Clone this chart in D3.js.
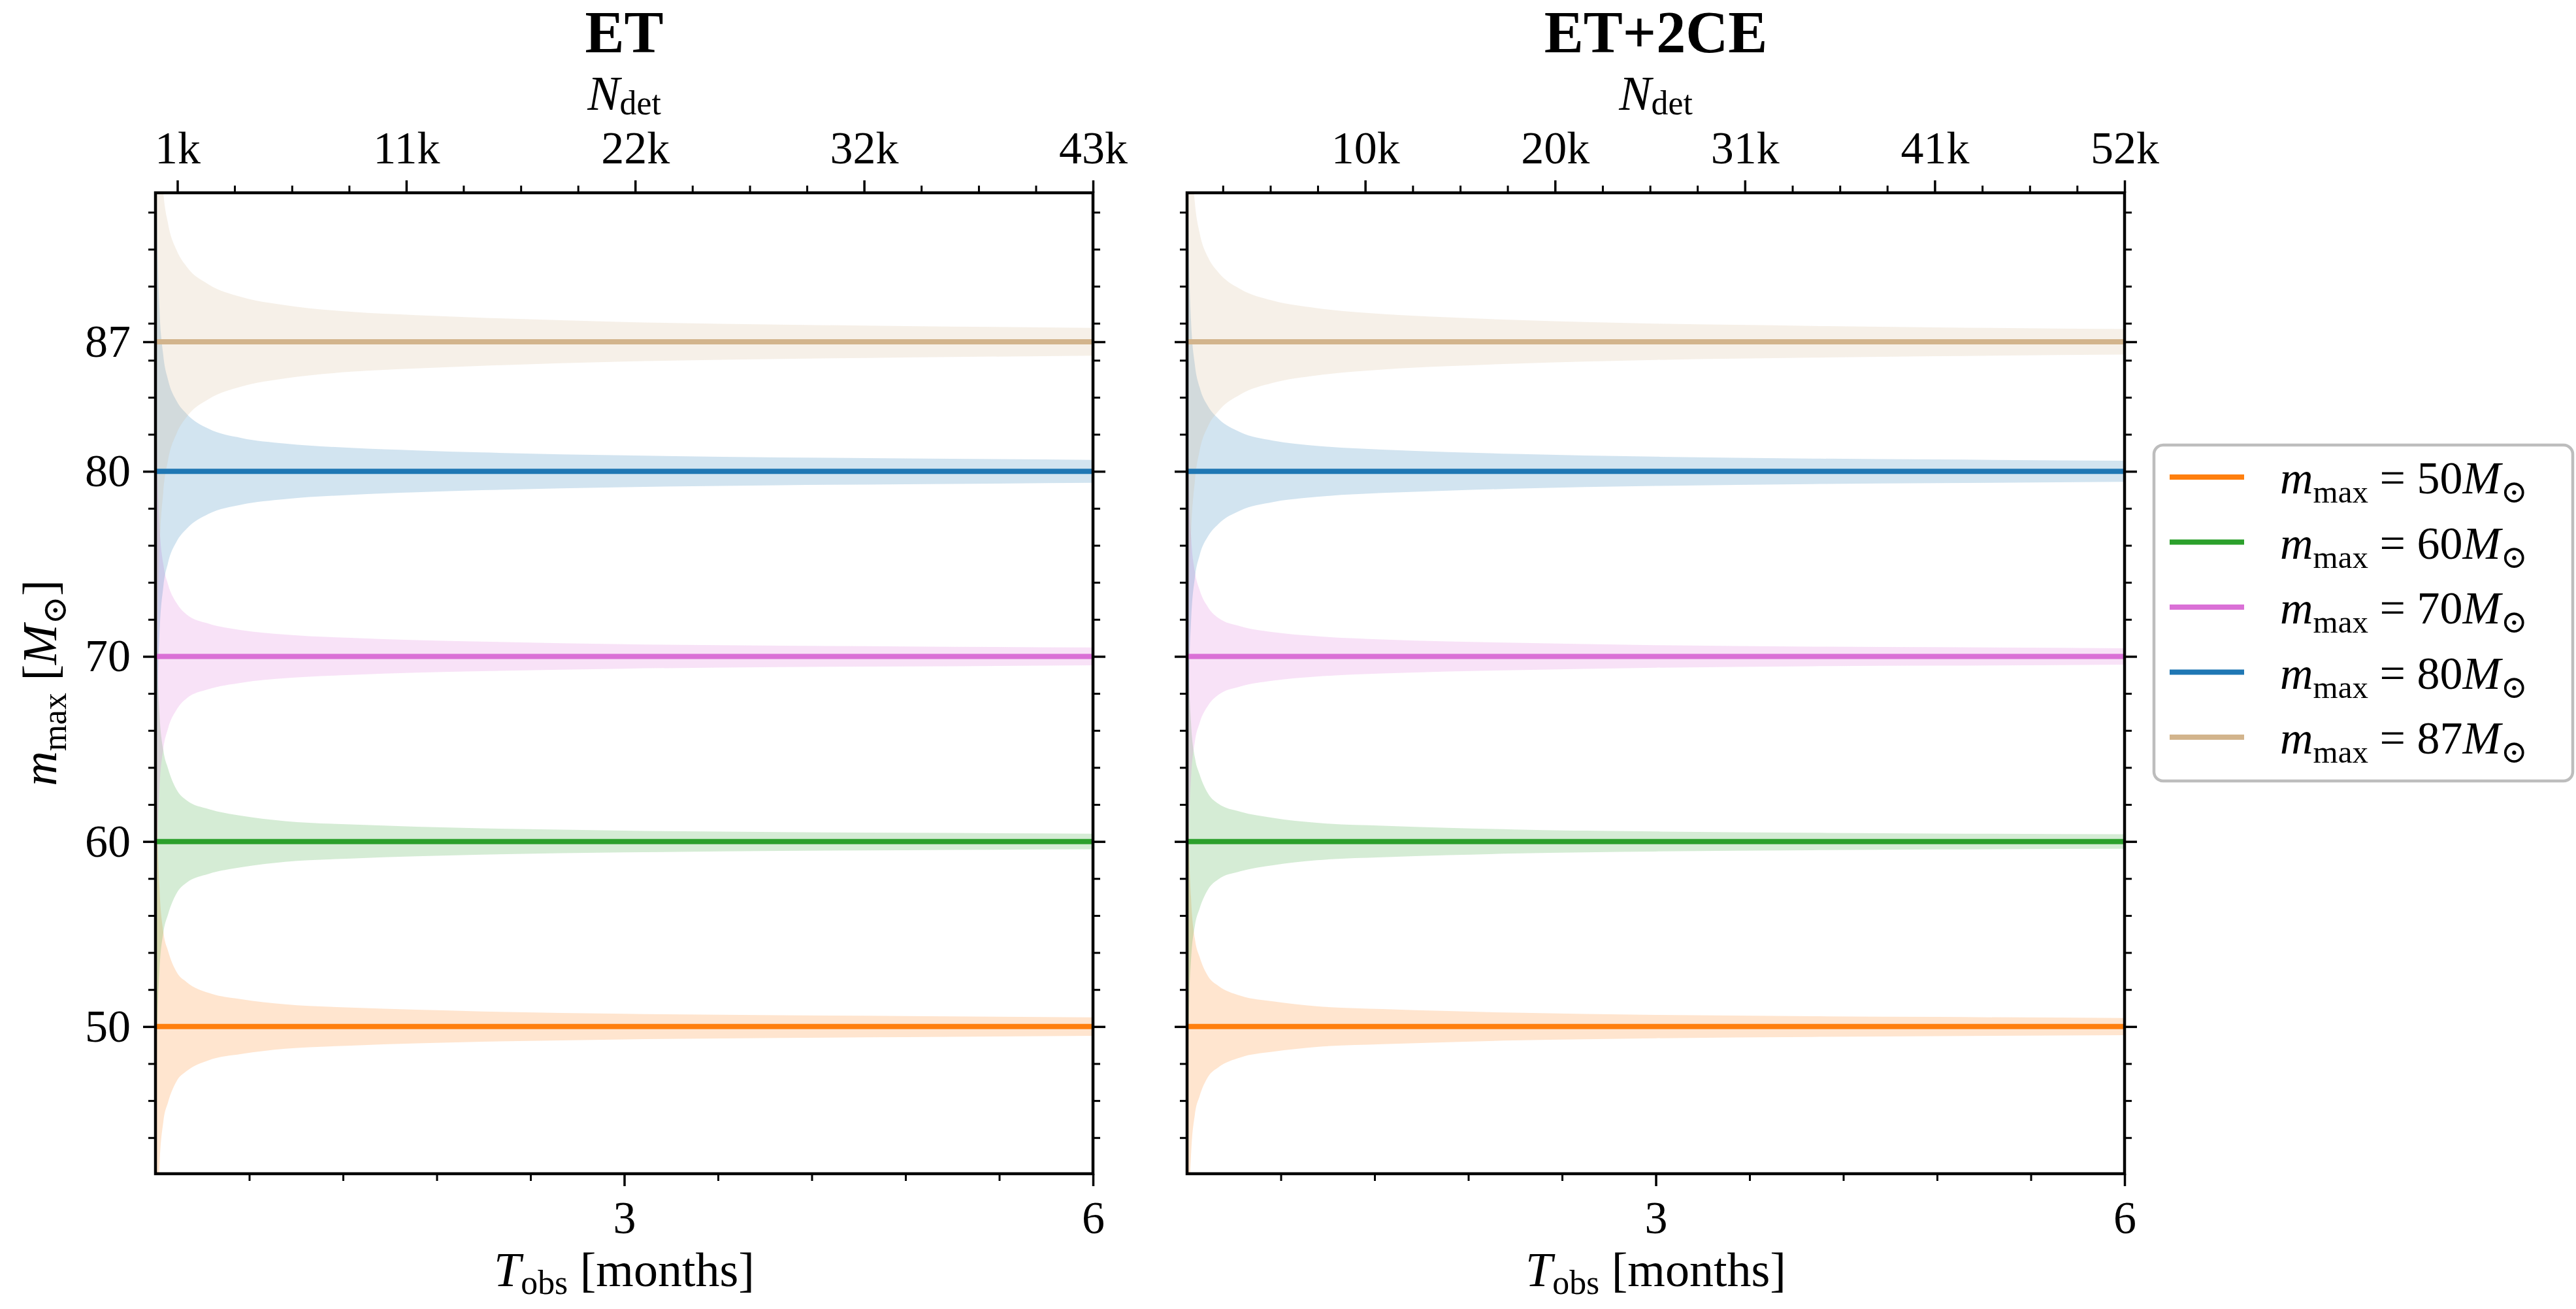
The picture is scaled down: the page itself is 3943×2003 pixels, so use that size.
<!DOCTYPE html>
<html>
<head>
<meta charset="utf-8">
<script src="https://cdn.jsdelivr.net/npm/d3@7"></script>
<style>
  body { margin: 0; background: #fff; }
  svg { display: block; }
</style>
</head>
<body>
<svg id="chart" width="3943" height="2003"></svg>
<script>
// ---- data -------------------------------------------------------------
// observation time samples (months)
const tObs = [0.006, 0.01, 0.025, 0.05, 0.08, 0.135, 0.2, 0.34, 0.55, 0.83, 1.25, 1.67, 2.09, 3.0, 4.0, 4.8, 6.0];

const massValues = [50, 60, 70, 80, 87];
const seriesColors = ["#ff7f0e", "#2ca02c", "#da70d6", "#1f77b4", "#d2b48c"];

// half-width of the m_max uncertainty band, ET alone
const etWidth50 = [15.5, 12, 7.6, 5.15, 4.1, 2.95, 2.4, 1.82, 1.48, 1.2, 1.03, 0.91, 0.82, 0.69, 0.61, 0.57, 0.5];
const etWidth60 = [14.5, 11, 7.0, 4.95, 3.95, 2.8, 2.22, 1.75, 1.39, 1.1, 0.92, 0.8, 0.71, 0.59, 0.51, 0.47, 0.42];
const etWidth70 = [15, 11.5, 7.2, 5.0, 3.9, 2.88, 2.26, 1.77, 1.42, 1.18, 1.0, 0.88, 0.8, 0.66, 0.58, 0.54, 0.48];
const etWidth80 = [19, 14, 8.9, 6.25, 4.95, 3.8, 3.1, 2.3, 1.8, 1.5, 1.27, 1.13, 1.02, 0.86, 0.75, 0.7, 0.62];
const etWidth87 = [24, 18, 11.5, 8.1, 6.4, 4.95, 4.05, 3.1, 2.42, 1.98, 1.62, 1.44, 1.3, 1.07, 0.93, 0.85, 0.75];

// half-width of the m_max uncertainty band, ET + 2 CE
const netWidth50 = [14.3, 11, 7.0, 4.75, 3.77, 2.71, 2.2, 1.67, 1.36, 1.1, 0.95, 0.84, 0.75, 0.63, 0.56, 0.52, 0.46];
const netWidth60 = [13.5, 10.1, 6.45, 4.55, 3.63, 2.58, 2.04, 1.61, 1.28, 1.01, 0.85, 0.74, 0.65, 0.54, 0.47, 0.43, 0.39];
const netWidth70 = [14, 10.6, 6.6, 4.6, 3.6, 2.65, 2.08, 1.63, 1.31, 1.09, 0.92, 0.81, 0.74, 0.61, 0.53, 0.5, 0.44];
const netWidth80 = [17.5, 13, 8.2, 5.75, 4.55, 3.5, 2.85, 2.12, 1.66, 1.38, 1.17, 1.04, 0.94, 0.79, 0.69, 0.64, 0.57];
const netWidth87 = [22, 16.5, 10.6, 7.5, 5.9, 4.55, 3.75, 2.85, 2.22, 1.82, 1.5, 1.32, 1.18, 0.98, 0.86, 0.78, 0.69];

// axis ticks
const yMajorTicks = [50, 60, 70, 80, 87];
const yMinorTicks = [44, 46, 48, 52, 54, 56, 58, 62, 64, 66, 68, 72, 74, 76, 78, 82, 84, 86, 88, 90, 92, 94];
const tMajorTicks = [3, 6];
const tMinorTicks = [0.6, 1.2, 1.8, 2.4, 3.6, 4.2, 4.8, 5.4];

// N_det (top) axis: tick positions in months and their labels
const etDetTicks = [0.14, 1.605, 3.07, 4.535, 6.0];
const etDetLabels = ["1k", "11k", "22k", "32k", "43k"];
const etDetMinor = [0.506, 0.873, 1.239, 1.971, 2.338, 2.704, 3.436, 3.803, 4.169, 4.901, 5.268, 5.634];
const netDetTicks = [1.14, 2.355, 3.57, 4.785, 6.0];
const netDetLabels = ["10k", "20k", "31k", "41k", "52k"];
const netDetMinor = [0.229, 0.533, 0.836, 1.444, 1.748, 2.051, 2.659, 2.963, 3.266, 3.874, 4.178, 4.481, 5.089, 5.393, 5.696];

const panels = [
  { title: "ET", x0: 238, widths: [etWidth50, etWidth60, etWidth70, etWidth80, etWidth87],
    detTicks: etDetTicks, detLabels: etDetLabels, detMinor: etDetMinor, yLabels: true },
  { title: "ET+2CE", x0: 1817, widths: [netWidth50, netWidth60, netWidth70, netWidth80, netWidth87],
    detTicks: netDetTicks, detLabels: netDetLabels, detMinor: netDetMinor, yLabels: false }
];

// ---- layout -----------------------------------------------------------
const FONT = "'Liberation Serif', 'DejaVu Serif', serif";
const panelW = 1435;
const yTop = 295, yBot = 1796;
const majorLen = 19, minorLen = 11;
const tickFont = 70, labelFont = 74, titleFont = 90;

const svg = d3.select("#chart");
svg.append("rect").attr("width", 3943).attr("height", 2003).attr("fill", "#fff");

const y = d3.scaleLinear().domain([42.05, 95.05]).range([yBot, yTop]);

// writes math-like text: parts = [{t, it, sub}]
function mathText(sel, parts, size, shift = 0.2) {
  let down = false;
  parts.forEach(p => {
    const ts = sel.append("tspan").text(p.t);
    if (p.it) ts.attr("font-style", "italic");
    if (p.sub) {
      ts.attr("font-size", size * 0.7).attr("dy", down ? 0 : size * shift);
      down = true;
    } else {
      ts.attr("font-size", size);
      if (down) { ts.attr("dy", -size * shift); down = false; }
    }
  });
  return sel;
}

function styleAxis(g, width) {
  g.select(".domain").remove();
  g.selectAll(".tick line").attr("stroke", "#000").attr("stroke-width", width);
  g.selectAll(".tick text").attr("font-family", FONT).attr("font-size", tickFont).attr("fill", "#000");
}

panels.forEach((p, pi) => {
  const x = d3.scaleLinear().domain([0, 6]).range([p.x0, p.x0 + panelW]);
  const g = svg.append("g");
  const clipId = "clip" + pi;
  svg.append("clipPath").attr("id", clipId)
    .append("rect").attr("x", p.x0).attr("y", yTop).attr("width", panelW).attr("height", yBot - yTop);

  const plot = g.append("g").attr("clip-path", `url(#${clipId})`);

  // uncertainty bands
  massValues.forEach((m, i) => {
    const pts = tObs.map((t, k) => ({ t, w: p.widths[i][k] }));
    const area = d3.area()
      .x(d => x(d.t))
      .y0(d => y(m - d.w))
      .y1(d => y(m + d.w))
      .curve(d3.curveMonotoneX);
    plot.append("path").datum(pts)
      .attr("d", area)
      .attr("fill", seriesColors[i])
      .attr("fill-opacity", 0.2)
      .attr("stroke", "none");
  });

  // central values
  massValues.forEach((m, i) => {
    const line = d3.line().x(d => x(d)).y(() => y(m));
    plot.append("path").datum([tObs[0], tObs[tObs.length - 1]])
      .attr("d", line)
      .attr("fill", "none")
      .attr("stroke", seriesColors[i])
      .attr("stroke-width", 8);
  });

  // left axis
  const yl = g.append("g").attr("transform", `translate(${p.x0},0)`)
    .call(d3.axisLeft(y).tickValues(yMajorTicks).tickSize(majorLen).tickPadding(19)
      .tickFormat(p.yLabels ? d3.format("d") : () => ""));
  styleAxis(yl, 3.5);
  const ylm = g.append("g").attr("transform", `translate(${p.x0},0)`)
    .call(d3.axisLeft(y).tickValues(yMinorTicks).tickSize(minorLen).tickFormat(() => ""));
  styleAxis(ylm, 3);

  // right axis (ticks only)
  const yr = g.append("g").attr("transform", `translate(${p.x0 + panelW},0)`)
    .call(d3.axisRight(y).tickValues(yMajorTicks).tickSize(majorLen).tickFormat(() => ""));
  styleAxis(yr, 3.5);
  const yrm = g.append("g").attr("transform", `translate(${p.x0 + panelW},0)`)
    .call(d3.axisRight(y).tickValues(yMinorTicks).tickSize(minorLen).tickFormat(() => ""));
  styleAxis(yrm, 3);

  // bottom axis: observation time
  const xb = g.append("g").attr("transform", `translate(0,${yBot})`)
    .call(d3.axisBottom(x).tickValues(tMajorTicks).tickSize(majorLen).tickPadding(22).tickFormat(d3.format("d")));
  styleAxis(xb, 3.5);
  const xbm = g.append("g").attr("transform", `translate(0,${yBot})`)
    .call(d3.axisBottom(x).tickValues(tMinorTicks).tickSize(minorLen).tickFormat(() => ""));
  styleAxis(xbm, 3);

  // top axis: number of detections
  const xt = g.append("g").attr("transform", `translate(0,${yTop})`)
    .call(d3.axisTop(x).tickValues(p.detTicks).tickSize(majorLen).tickPadding(26)
      .tickFormat((d, i) => p.detLabels[i]));
  styleAxis(xt, 3.5);
  const xtm = g.append("g").attr("transform", `translate(0,${yTop})`)
    .call(d3.axisTop(x).tickValues(p.detMinor).tickSize(minorLen).tickFormat(() => ""));
  styleAxis(xtm, 3);

  // frame
  g.append("rect")
    .attr("x", p.x0).attr("y", yTop).attr("width", panelW).attr("height", yBot - yTop)
    .attr("fill", "none").attr("stroke", "#000").attr("stroke-width", 4.5);

  const cx = p.x0 + panelW / 2;

  // title
  g.append("text").attr("x", cx).attr("y", 80)
    .attr("text-anchor", "middle").attr("font-family", FONT)
    .attr("font-weight", "bold").attr("font-size", titleFont)
    .text(p.title);

  // top axis label
  mathText(g.append("text").attr("x", cx).attr("y", 168)
    .attr("text-anchor", "middle").attr("font-family", FONT),
    [{ t: "N", it: true }, { t: "det", sub: true }], labelFont, 0.1);

  // bottom axis label
  mathText(g.append("text").attr("x", cx).attr("y", 1968)
    .attr("text-anchor", "middle").attr("font-family", FONT),
    [{ t: "T", it: true }, { t: "obs", sub: true }, { t: " [months]" }], labelFont, 0.16);
});

// y axis label
mathText(svg.append("text")
  .attr("transform", "translate(86,1045) rotate(-90)")
  .attr("text-anchor", "middle").attr("font-family", FONT),
  [{ t: "m", it: true }, { t: "max", sub: true }, { t: " [" }, { t: "M", it: true }, { t: "⊙", sub: true }, { t: "]" }],
  labelFont);

// legend
const legX = 3297, legY = 681, legW = 641, legH = 514;
const leg = svg.append("g");
leg.append("rect")
  .attr("x", legX).attr("y", legY).attr("width", legW).attr("height", legH)
  .attr("rx", 14).attr("ry", 14)
  .attr("fill", "#fff").attr("fill-opacity", 0.9)
  .attr("stroke", "#bdbdbd").attr("stroke-width", 4.5);

massValues.forEach((m, i) => {
  const ry = legY + 49 + i * 99.5;
  leg.append("line")
    .attr("x1", legX + 24).attr("x2", legX + 138)
    .attr("y1", ry).attr("y2", ry)
    .attr("stroke", seriesColors[i]).attr("stroke-width", 8);
  mathText(leg.append("text").attr("x", legX + 193).attr("y", ry + 25)
    .attr("font-family", FONT),
    [{ t: "m", it: true }, { t: "max", sub: true }, { t: " = " + m }, { t: "M", it: true }, { t: "⊙", sub: true }],
    70);
});
</script>
</body>
</html>
